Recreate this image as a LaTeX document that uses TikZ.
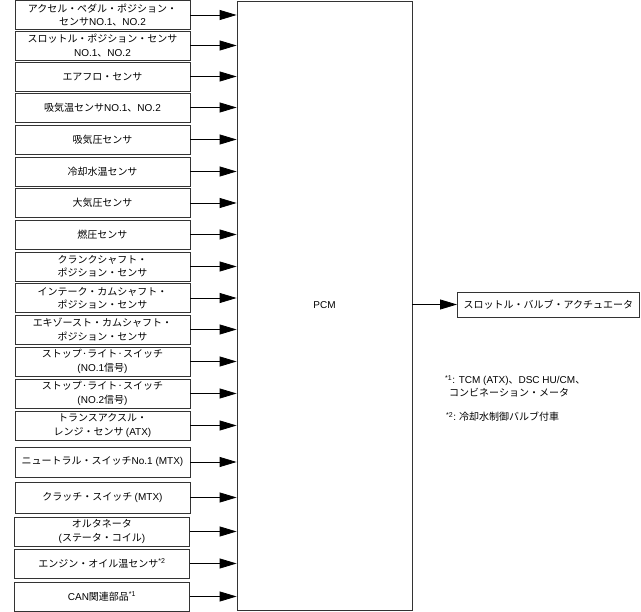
\documentclass[tikz,border=0pt]{standalone}
\usepackage{fontspec}
\setmainfont{Noto Sans CJK JP}
\newfontfamily\lat{Liberation Sans}
\usepackage{tikz}
\usetikzlibrary{arrows.meta}

\newcommand{\en}[1]{{\lat #1}}
\newcommand{\note}[1]{\textsuperscript{\lat *#1}}

\tikzset{
  sensor/.style={draw=black!80,line width=0.8pt,minimum width=175pt,minimum height=29pt,align=center,inner sep=1pt},
  feed/.style={-{Triangle[length=17pt,width=10pt]},line width=0.8pt},
}

\begin{document}
\begin{tikzpicture}[x=1pt,y=-1pt,font=\fontsize{10}{13.3}\selectfont]
\useasboundingbox (0,0) rectangle (641,612);
\node[sensor] (s1) at (102.5,15) {アクセル・ペダル・ポジション・\\センサ\en{NO.1}、\en{NO.2}};
\node[sensor] (s2) at (102.5,45.5) {スロットル・ポジション・センサ\\\en{NO.1}、\en{NO.2}};
\node[sensor] (s3) at (102.5,76.5) {エアフロ・センサ};
\node[sensor] (s4) at (102.5,107.5) {吸気温センサ\en{NO.1}、\en{NO.2}};
\node[sensor] (s5) at (102.5,139.5) {吸気圧センサ};
\node[sensor] (s6) at (102.5,171.5) {冷却水温センサ};
\node[sensor] (s7) at (102.5,203) {大気圧センサ};
\node[sensor] (s8) at (102.5,234.5) {燃圧センサ};
\node[sensor] (s9) at (102.5,266.5) {クランクシャフト・\\ポジション・センサ};
\node[sensor] (s10) at (102.5,298) {インテーク・カムシャフト・\\ポジション・センサ};
\node[sensor] (s11) at (102.5,329.5) {エキゾースト・カムシャフト・\\ポジション・センサ};
\node[sensor] (s12) at (102.5,361.5) {ストップ·ライト·スイッチ\\\en{(NO.1}信号\en{)}};
\node[sensor] (s13) at (102.5,393.5) {ストップ·ライト·スイッチ\\\en{(NO.2}信号\en{)}};
\node[sensor] (s14) at (102.5,425.5) {トランスアクスル・\\レンジ・センサ \en{(ATX)}};
\node[sensor,minimum height=30pt] (s15) at (102.5,462) {ニュートラル・スイッチ\en{No.1 (MTX)}};
\node[sensor,minimum height=31pt] (s16) at (102.5,497.5) {クラッチ・スイッチ \en{(MTX)}};
\node[sensor] (s17) at (102,531.5) {オルタネータ\\\en{(}ステータ・コイル\en{)}};
\node[sensor] (s18) at (102,563.5) {エンジン・オイル温センサ\note{2}};
\node[sensor] (s19) at (102,596.5) {\en{CAN}関連部品\note{1}};
% PCM
\node[draw=black!80,line width=0.8pt,minimum width=175pt,minimum height=609pt] (pcm) at (324.5,305.5) {\en{PCM}};
\foreach \i in {1,...,19}
  \draw[feed] (s\i.east) -- (s\i.east -| pcm.west);
\node[draw=black!80,line width=0.8pt,minimum width=182pt,minimum height=25pt,anchor=west] (act) at (457,304.5) {スロットル・バルブ・アクチュエータ};
\draw[feed] (act.west -| pcm.east) -- (act.west);
% notes
\node[anchor=north west,align=left,inner sep=0pt] (fn1) at (445,375) {\note{1}\en{: TCM (ATX)}、\en{DSC HU/CM}、\\\hspace{4pt}コンビネーション・メータ};
\node[anchor=west,inner sep=0pt] (fn2) at (446,417) {\note{2}\en{:} 冷却水制御バルブ付車};
\end{tikzpicture}
\end{document}
